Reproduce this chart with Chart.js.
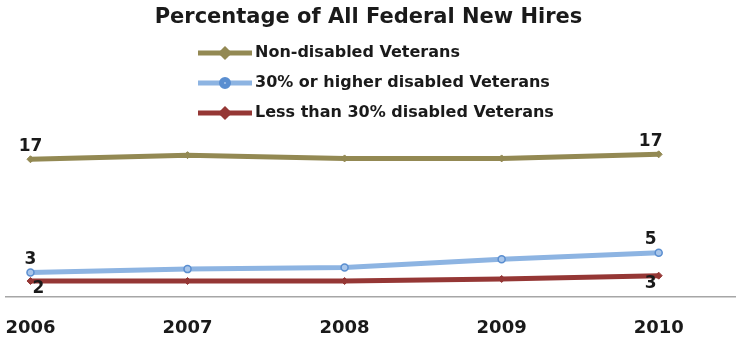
<!DOCTYPE html>
<html>
<head>
<meta charset="utf-8">
<script src="https://cdn.jsdelivr.net/npm/chart.js@4"></script>
<style>
  html, body { margin: 0; padding: 0; background: #fff; }
  #wrap { width: 741px; height: 339px; }
</style>
</head>
<body>
<div id="wrap"><canvas id="line-chart"></canvas></div>
<script>
const years = [2006, 2007, 2008, 2009, 2010];
const nonDisabled = [16.8, 17.3, 16.9, 16.9, 17.4];
const disabled30Plus = [3.0, 3.4, 3.6, 4.6, 5.4];
const disabledUnder30 = [1.95, 1.95, 1.95, 2.2, 2.6];
const seriesNames = [
  "Non-disabled Veterans",
  "30% or higher disabled Veterans",
  "Less than 30% disabled Veterans",
];

const FONT = "'DejaVu Sans', sans-serif";
const COLORS = {
  olive: "#938953",
  blue: "#8db4e2",
  blueEdge: "#5a8ed0",
  red: "#953735",
};

function toPoints(values) {
  return values.map((v, i) => ({ x: years[i], y: v }));
}

// labels on first and last point, like the excel data labels
const labelPlugin = {
  id: "endLabels",
  afterDatasetsDraw(chart) {
    const ctx = chart.ctx;
    ctx.save();
    ctx.font = "bold 17px " + FONT;
    ctx.fillStyle = "#1a1a1a";
    ctx.textAlign = "center";
    ctx.textBaseline = "middle";
    chart.data.datasets.forEach((ds, di) => {
      const meta = chart.getDatasetMeta(di);
      [0, meta.data.length - 1].forEach((idx) => {
        const pt = meta.data[idx];
        const val = Math.round(ds.data[idx].y);
        const dy = ds.labelBelow ? 8 : -13;
        const dx = idx ? -8 : (ds.labelBelow ? 8 : 0);
        ctx.fillText(String(val), pt.x + dx, pt.y + dy);
      });
    });
    ctx.restore();
  },
};

// stacked legend, one entry per row
const legendPlugin = {
  id: "stackLegend",
  afterDraw(chart) {
    const ctx = chart.ctx;
    ctx.save();
    chart.data.datasets.forEach((ds, i) => {
      const y = 53 + i * 30;
      ctx.strokeStyle = ds.borderColor;
      ctx.lineWidth = 5;
      ctx.beginPath();
      ctx.moveTo(198, y);
      ctx.lineTo(252, y);
      ctx.stroke();
      ctx.fillStyle = ds.pointBackgroundColor;
      ctx.strokeStyle = ds.pointBorderColor;
      Chart.helpers.drawPoint(ctx, {
        pointStyle: ds.pointStyle,
        radius: ds.pointRadius,
        borderWidth: ds.pointBorderWidth,
      }, 225, y);
      ctx.font = "bold 16px " + FONT;
      ctx.fillStyle = "#1a1a1a";
      ctx.textAlign = "left";
      ctx.textBaseline = "middle";
      ctx.fillText(ds.label, 255, y);
    });
    ctx.restore();
  },
};

const data_hires = {
  datasets: [
    {
      label: seriesNames[0],
      data: toPoints(nonDisabled),
      borderColor: COLORS.olive,
      backgroundColor: COLORS.olive,
      borderWidth: 5,
      pointStyle: "rectRot",
      pointRadius: 3.5,
      pointBorderWidth: 1,
      pointBackgroundColor: COLORS.olive,
      pointBorderColor: COLORS.olive,
    },
    {
      label: seriesNames[1],
      data: toPoints(disabled30Plus),
      borderColor: COLORS.blue,
      backgroundColor: COLORS.blue,
      borderWidth: 5,
      pointStyle: "circle",
      pointRadius: 3.5,
      pointBorderWidth: 1.5,
      pointBackgroundColor: "#a9c6ea",
      pointBorderColor: COLORS.blueEdge,
    },
    {
      label: seriesNames[2],
      data: toPoints(disabledUnder30),
      borderColor: COLORS.red,
      backgroundColor: COLORS.red,
      borderWidth: 5,
      pointStyle: "rectRot",
      pointRadius: 3.5,
      pointBorderWidth: 1,
      pointBackgroundColor: COLORS.red,
      pointBorderColor: COLORS.red,
      labelBelow: true,
    },
  ],
};

const config_hires = {
  type: "line",
  data: data_hires,
  options: {
    responsive: true,
    maintainAspectRatio: false,
    animation: false,
    clip: false,
    layout: { padding: { left: 0, right: 4, bottom: 0, top: 0 } },
    plugins: {
      legend: { display: false },
      tooltip: { enabled: false },
      title: {
        display: true,
        text: "Percentage of All Federal New Hires",
        color: "#1a1a1a",
        font: { family: FONT, size: 21, weight: "bold" },
        padding: { top: 5, bottom: 102.8 },
      },
    },
    scales: {
      x: {
        type: "linear",
        min: 2005.841,
        max: 2010.489,
        afterBuildTicks(scale) {
          scale.ticks = years.map((y) => ({ value: y }));
        },
        afterFit(scale) {
          scale.height = 42;
          scale.paddingLeft = 0;
          scale.paddingRight = 0;
        },
        grid: { display: false, drawTicks: false },
        border: { display: true, color: "#a6a6a6", width: 1.5 },
        ticks: {
          padding: 21,
          maxRotation: 0,
          color: "#1a1a1a",
          font: { family: FONT, size: 18, weight: "bold" },
          callback: (v) => String(v),
        },
      },
      y: {
        display: false,
        min: 0,
        max: 20,
      },
    },
  },
  plugins: [labelPlugin, legendPlugin],
};

var ctx_hires = document.getElementById("line-chart").getContext("2d");
var hiresChart = new Chart(ctx_hires, config_hires);
</script>
</body>
</html>
